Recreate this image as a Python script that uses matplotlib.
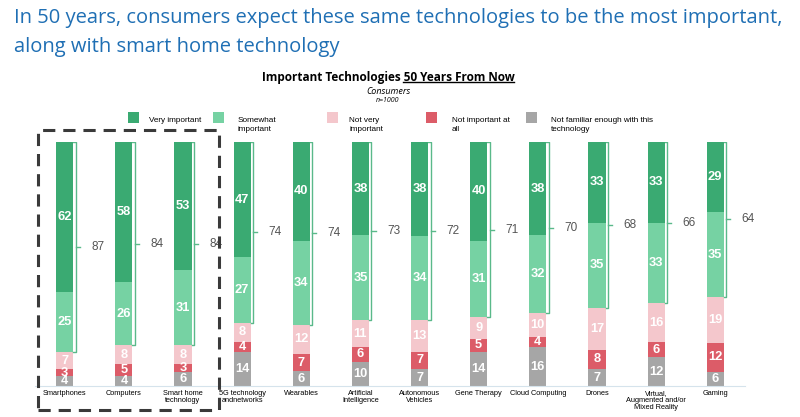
import numpy as np
import matplotlib.pyplot as plt
from matplotlib.patches import Rectangle

categories = ['Smartphones', 'Computers', 'Smart home\ntechnology', '5G technology\nandnetworks',
              'Wearables', 'Artificial\nIntelligence', 'Autonomous\nVehicles', 'Gene Therapy',
              'Cloud Computing', 'Drones', 'Virtual,\nAugmented and/or\nMixed Reality', 'Gaming']
very = [62, 58, 53, 47, 40, 38, 38, 40, 38, 33, 33, 29]
somewhat = [25, 26, 31, 27, 34, 35, 34, 31, 32, 35, 33, 35]
not_very = [7, 8, 8, 8, 12, 11, 13, 9, 10, 17, 16, 19]
not_at_all = [3, 5, 3, 4, 7, 6, 7, 5, 4, 8, 6, 12]
not_familiar = [4, 4, 6, 14, 6, 10, 7, 14, 16, 7, 12, 6]
top2 = [87, 84, 84, 74, 74, 73, 72, 71, 70, 68, 66, 64]

series = [not_familiar, not_at_all, not_very, somewhat, very]
colors = ['#a6a6a6', '#dc5c68', '#f4c7cc', '#76d2a3', '#3aaa72']

plt.rcParams['font.family'] = ['Open Sans', 'DejaVu Sans']

fig = plt.figure(figsize=(8, 4.17), dpi=100)
ax = fig.add_axes([0.044, 0.074, 0.887, 0.585])

x = np.arange(len(categories))
totals = np.array(series).sum(axis=0)
w = 0.29
bottom = np.zeros(len(x))
for vals, c in zip(series, colors):
    h = np.array(vals) / totals * 100
    ax.bar(x, h, w, bottom=bottom, color=c, linewidth=0)
    for i in range(len(x)):
        ax.text(x[i], bottom[i] + h[i] / 2, str(vals[i]), ha='center', va='center',
                color='white', fontsize=9.3, fontweight='bold', family='Liberation Sans')
    bottom += h

# brackets for top-2 box
bc = '#5ab98a'
for i in range(len(x)):
    low = 100 - (very[i] + somewhat[i]) / totals[i] * 100
    bx = x[i] + w / 2 + 0.04
    ax.plot([x[i] + w / 2, bx, bx, x[i] + w / 2], [100, 100, low, low], color=bc, lw=1)
    mid = (100 + low) / 2
    ax.plot([bx, bx + 0.07], [mid, mid], color=bc, lw=1)
    ax.text(x[i] + 0.56, mid, str(top2[i]), ha='center', va='center', color='#555555',
            fontsize=8.5, family='Liberation Sans')

ax.set_xlim(-0.5, 11.5)
ax.set_ylim(0, 100)
for s in ['top', 'right', 'left']:
    ax.spines[s].set_visible(False)
ax.spines['bottom'].set_color('#d5e3ec')
ax.set_yticks([])
ax.set_xticks(x)
ax.set_xticklabels(categories, fontsize=5.3, linespacing=1.0, family='Liberation Sans')
ax.tick_params(axis='x', length=0, pad=3)

# dashed highlight box
fig.patches.append(Rectangle((38 / 800, 1 - 410 / 417), (219 - 38) / 800, (410 - 130) / 417,
                             transform=fig.transFigure, fill=False, ec='#3a3a3a', lw=2.2,
                             ls=(0, (4, 2.6))))

# headline
fig.text(14 / 800, 1 - 32.5 / 417, 'In 50 years, consumers expect these same technologies to be the most important,\nalong with smart home technology',
         color='#1f6fb4', fontsize=14.5, va='center', ha='left', linespacing=1.55)

# chart title with underline part
t = fig.text(388 / 800, 1 - 77 / 417, 'Important Technologies 50 Years From Now',
             ha='center', va='center', fontsize=8.5, fontweight='bold')
fig.canvas.draw()
r = fig.canvas.get_renderer()
bb = t.get_window_extent(r)
tmp = fig.text(0, 0, '50 Years From Now', fontsize=8.5, fontweight='bold')
wb = tmp.get_window_extent(r).width
tmp.remove()
fig.add_artist(plt.Line2D([(bb.x1 - wb) / 800, bb.x1 / 800], [(bb.y0 + 1.5) / 417] * 2,
                          transform=fig.transFigure, color='black', lw=1))
fig.text(388 / 800, 1 - 91 / 417, 'Consumers', ha='center', va='center', fontsize=6.5, style='italic')
fig.text(388 / 800, 1 - 101 / 417, 'n=1000', ha='center', va='center', fontsize=5, style='italic')

# legend
leg = [('Very important', '#3aaa72', 128, 149),
       ('Somewhat\nimportant', '#76d2a3', 213, 238),
       ('Not very\nimportant', '#f4c7cc', 327, 349),
       ('Not important at\nall', '#dc5c68', 426, 452),
       ('Not familiar enough with this\ntechnology', '#a6a6a6', 526, 551)]
for lab, c, sx, tx in leg:
    fig.patches.append(Rectangle((sx / 800, 1 - 123 / 417), 11 / 800, 11 / 417,
                                 transform=fig.transFigure, color=c, lw=0))
    fig.text(tx / 800, 1 - 116.5 / 417, lab, ha='left', va='top', fontsize=5.9,
             linespacing=1.45, family='Liberation Sans')

fig.savefig('out.png', dpi=100)
